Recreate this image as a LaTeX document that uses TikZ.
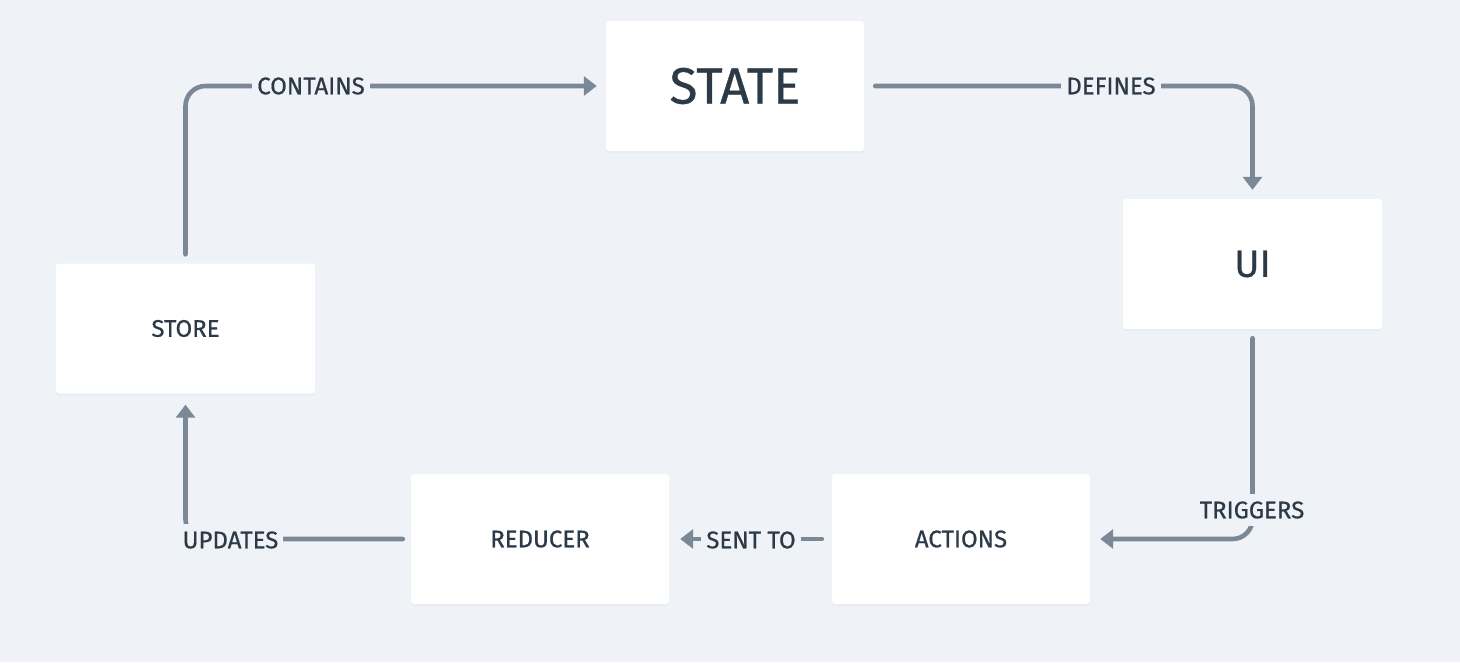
\documentclass[tikz,border=0pt]{standalone}
\usepackage{fontspec}
\setmainfont{Fira Sans}[UprightFeatures={FakeBold=0.6}]
\usetikzlibrary{arrows.meta,shadows}
\definecolor{bgc}{HTML}{EFF3F7}
\definecolor{linec}{HTML}{7B8897}
\definecolor{textc}{HTML}{2C3947}
\tikzset{
  box/.style={draw=none, fill=white, rounded corners=3pt, minimum width=258pt, minimum height=130pt, inner sep=0pt, text=textc,
    drop shadow={opacity=0.06, shadow xshift=0pt, shadow yshift=-2pt}},
  small/.style={font=\fontsize{24}{27}\selectfont},
  conn/.style={draw=linec, line width=4.6pt, line cap=round, rounded corners=20pt, -{Triangle[width=19pt,length=13pt]}},
  lbl/.style={fill=bgc, text=textc, font=\fontsize{24}{27}\selectfont, inner xsep=5pt, inner ysep=7pt},
}
\begin{document}
\begin{tikzpicture}[x=1pt,y=-1pt]
\fill[bgc] (0,0) rectangle (1460,662);
\useasboundingbox (0,0) rectangle (1460,662);
\node[box, font=\fontsize{51}{55}\selectfont] (state) at (735,86) {STATE};
\node[box, font=\fontsize{38}{42}\selectfont, minimum width=259pt] (ui) at (1252.5,264) {UI};
\node[box, small, minimum width=259pt] (store) at (185.5,328.5) {STORE};
\node[box, small] (reducer) at (540,539) {REDUCER};
\node[box, small] (actions) at (961,539) {ACTIONS};

\draw[conn, shorten <=9pt, shorten >=9pt] (store.north) |- (state.west);
\draw[conn, shorten <=11pt, shorten >=9pt] (state.east) -| (ui.north);
\draw[conn, shorten <=9pt, shorten >=10pt] (ui.south) |- (actions.east);
\draw[conn, shorten <=10pt, shorten >=11pt] (actions.west) -- (reducer.east);
\draw[conn, shorten <=8pt, shorten >=11pt] (reducer.west) -| (store.south);

\node[lbl] (lcontains) at (311,86) {CONTAINS};
\node[lbl] (ldefines) at (1111,86) {DEFINES};
\node[lbl] (ltriggers) at (1252,510) {TRIGGERS};
\node[lbl] (lsent) at (751,540) {SENT TO};
\node[lbl] (lupdates) at (230.5,540) {UPDATES};
\end{tikzpicture}
\end{document}
